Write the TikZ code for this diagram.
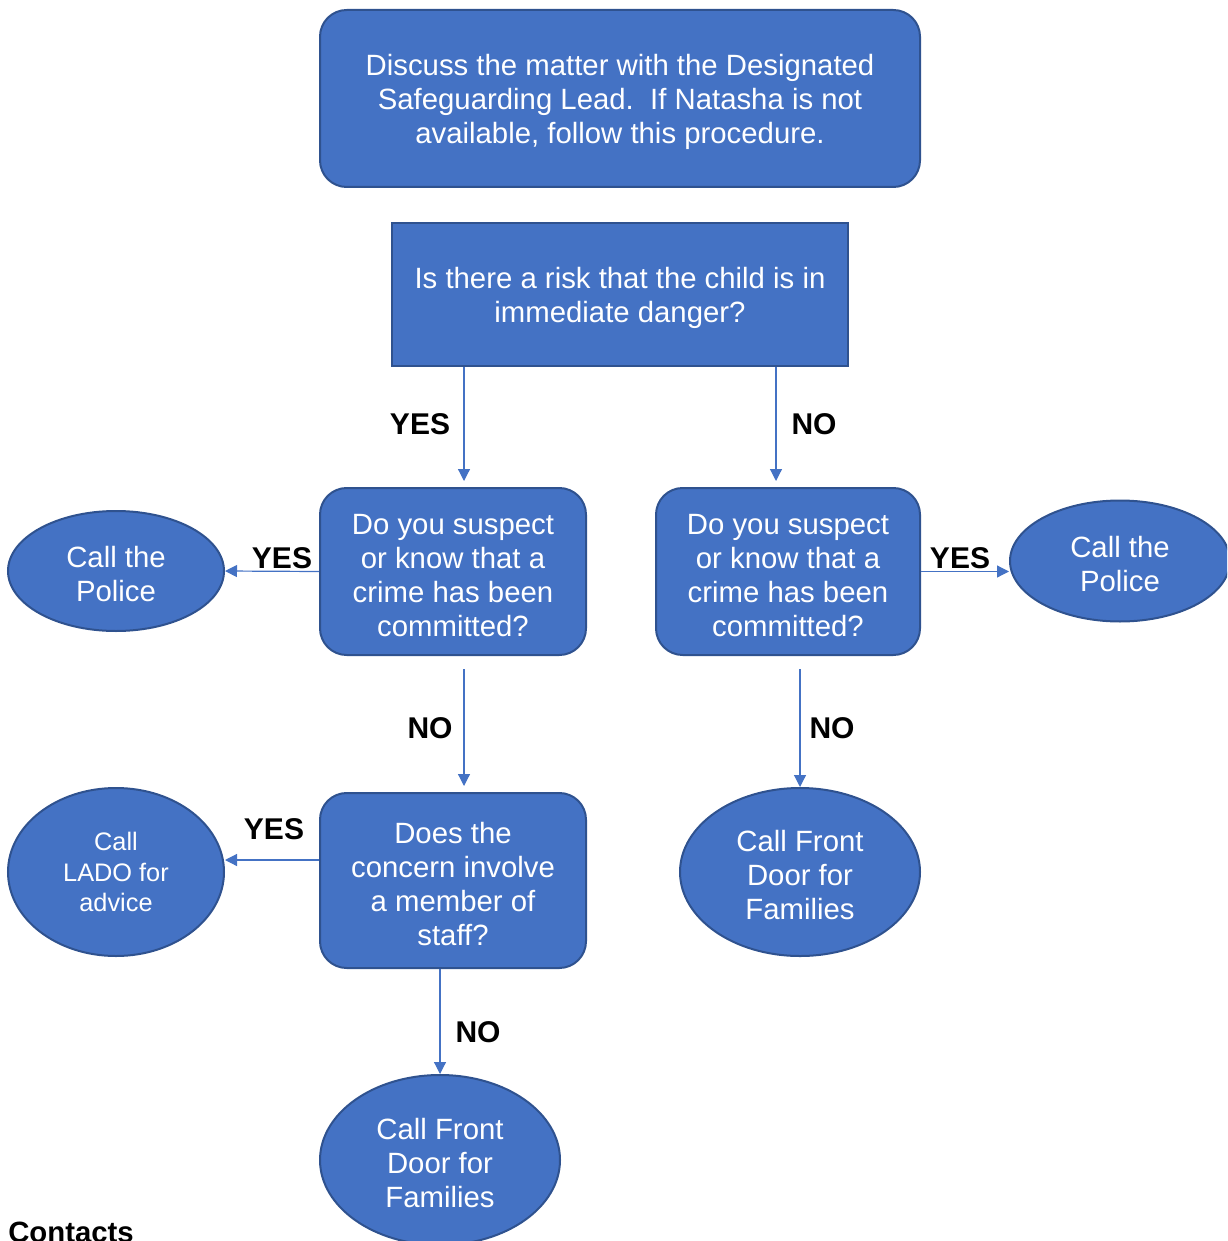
\documentclass[tikz,border=0pt]{standalone}
\usepackage{fontspec}
\setmainfont{Liberation Sans}
\usetikzlibrary{shapes.geometric,arrows.meta}
\definecolor{boxfill}{HTML}{4472C4}
\definecolor{boxline}{HTML}{2F528F}
\begin{document}
\begin{tikzpicture}[x=0.75pt,y=-0.75pt,
  base/.style={fill=boxfill,draw=boxline,line width=1.5pt,inner sep=0pt},
  txt/.style={text=white,align=center,inner sep=0pt,yshift=-2.4pt,
    font=\fontsize{22}{25.5}\selectfont},
  rbox/.style={base,rounded corners=20pt},
  sbox/.style={base},
  oval/.style={base,ellipse},
  lbl/.style={font=\fontsize{22.5}{26}\selectfont\bfseries,inner sep=0pt},
  arr/.style={draw=boxfill,line width=0.9pt,-{Triangle[width=9pt,length=9pt]}}]
\useasboundingbox (0,0) rectangle (1227,1241);
\clip (0,0) rectangle (1227,1241);
\node[rbox,minimum width=450pt,minimum height=132.75pt,
  label={[txt]center:{Discuss the matter with the Designated\\Safeguarding Lead.\ \ If Natasha is not\\available, follow this procedure.}}] (top) at (620,98.5) {};
\node[sbox,minimum width=342pt,minimum height=107.25pt,
  label={[txt]center:{Is there a risk that the child is in\\immediate danger?}}] (b2) at (620,294.5) {};
\node[rbox,minimum width=199.5pt,minimum height=125.25pt,
  label={[txt,yshift=-0.6pt]center:{Do you suspect\\or know that a\\crime has been\\committed?}}] (c1) at (453,571.5) {};
\node[rbox,minimum width=198pt,minimum height=125.25pt,
  label={[txt,yshift=-0.6pt]center:{Do you suspect\\or know that a\\crime has been\\committed?}}] (c2) at (788,571.5) {};
\node[oval,minimum width=162pt,minimum height=90pt,
  label={[txt]center:{Call the\\Police}}] (pL) at (116,571) {};
\node[oval,minimum width=165pt,minimum height=90.75pt,
  label={[txt]center:{Call the\\Police}}] (pR) at (1120,561) {};
\node[rbox,minimum width=199.5pt,minimum height=131.25pt,
  label={[txt]center:{Does the\\concern involve\\a member of\\staff?}}] (d1) at (453,880.5) {};
\node[oval,minimum width=162pt,minimum height=126pt,
  label={[txt,yshift=2.4pt,font=\fontsize{19}{22.8}\selectfont]center:{Call\\LADO for\\advice}}] (lado) at (116,872) {};
\node[oval,minimum width=180pt,minimum height=126pt,
  label={[txt]center:{Call Front\\Door for\\Families}}] (fR) at (800,872) {};
\node[oval,minimum width=180pt,minimum height=127.5pt,
  label={[txt]center:{Call Front\\Door for\\Families}}] (fB) at (440,1160) {};
% connectors
\draw[arr] ([xshift=-117pt]b2.south) -- ([xshift=8.25pt,yshift=4.5pt]c1.north);
\draw[arr] ([xshift=117pt]b2.south) -- ([xshift=-9pt,yshift=4.5pt]c2.north);
\draw[arr] (c1.west) -- (pL.east);
\draw[arr] (c2.east) -- (c2.east -| pR.west);
\draw[arr] ([xshift=8.25pt,yshift=-9.75pt]c1.south) -- ([xshift=8.25pt,yshift=4.5pt]d1.north);
\draw[arr] ([xshift=9pt,yshift=-9.75pt]c2.south) -- (fR.north);
\coordinate (d1w) at ([yshift=15.375pt]d1.west);
\draw[arr] (d1w) -- (d1w -| lado.east);
\draw[arr] ([xshift=-9.75pt]d1.south) -- (fB.north);
% labels
\node[lbl] (l1) at (420,424) {YES};
\node[lbl] (l2) at (814,424) {NO};
\node[lbl] (l3) at (282,558) {YES};
\node[lbl] (l4) at (960,558) {YES};
\node[lbl] (l5) at (430,728) {NO};
\node[lbl] (l6) at (832,728) {NO};
\node[lbl] (l7) at (274,829) {YES};
\node[lbl] (l8) at (478,1032) {NO};
\node[lbl,font=\fontsize{22}{26}\selectfont\bfseries,anchor=base west] (contacts) at (8,1242) {Contacts};
\end{tikzpicture}
\end{document}
